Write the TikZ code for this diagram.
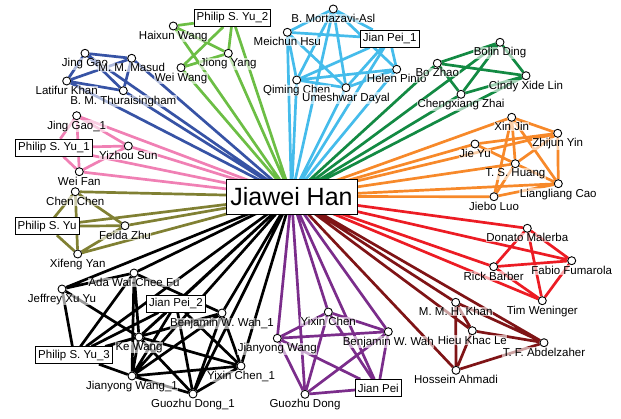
\documentclass[tikz,border=0pt]{standalone}
\usepackage{fontspec}
\setmainfont{Liberation Sans}
\usetikzlibrary{backgrounds}
\definecolor{cgreen}{RGB}{108,190,69}
\definecolor{cblue}{RGB}{55,83,165}
\definecolor{cpink}{RGB}{240,128,180}
\definecolor{colive}{RGB}{128,128,51}
\definecolor{csky}{RGB}{69,188,235}
\definecolor{cdgreen}{RGB}{19,138,67}
\definecolor{corange}{RGB}{247,137,42}
\definecolor{cred}{RGB}{236,28,36}
\definecolor{cmaroon}{RGB}{127,20,22}
\definecolor{cpurple}{RGB}{123,45,139}
\begin{document}
\begin{tikzpicture}[x=1pt,y=-1pt]
\tikzstyle{author} = [circle, draw=black, fill=white, line width=0.9pt, minimum size=8pt, inner sep=0pt, label distance=0.3pt]
\tikzstyle{every label} = [font=\fontsize{11.5}{13}\selectfont, fill=white, fill opacity=0.6, text opacity=1, inner sep=0.5pt]
\tikzstyle{alias} = [rectangle, draw=black, fill=white, line width=0.8pt, font=\fontsize{11.5}{13}\selectfont, minimum height=17pt, inner xsep=2.5pt, inner ysep=0pt]
\tikzstyle{hub} = [rectangle, draw=black, fill=white, line width=0.9pt, font=\fontsize{25}{28}\selectfont, minimum width=131pt, minimum height=35pt, inner sep=0pt]
\tikzstyle{coauthor} = [line width=2.7pt]
\useasboundingbox (0,0) rectangle (621,418);
\node[hub] (han) at (291.5,196.5) {Jiawei Han};
\node[alias] (pyu2) at (232.5,18) {Philip S. Yu\_2};
\node[author, label={below:Haixun Wang}] (hxwang) at (173.3,26) {};
\node[author, label={below:Jiong Yang}] (jyang) at (228.3,53.3) {};
\node[author, label={below:Wei Wang}] (wwang) at (181,67.7) {};
\node[author, label={below:Jing Gao}] (jgao) at (85,53.3) {};
\node[author, label={below:M. M. Masud}] (masud) at (131.7,58.3) {};
\node[author, label={below:Latifur Khan}] (lkhan) at (66.7,81) {};
\node[author, label={below:B. M. Thuraisingham}] (thura) at (123.3,90.7) {};
\node[author, label={below:Jing Gao\_1}] (jgao1) at (76.7,115.7) {};
\node[alias] (pyu1) at (54,147.7) {Philip S. Yu\_1};
\node[author, label={below:Yizhou Sun}] (ysun) at (128.3,146) {};
\node[author, label={below:Wei Fan}] (wfan) at (79.3,171.7) {};
\node[author, label={below:Chen Chen}] (cchen) at (75.3,191.7) {};
\node[alias] (pyu) at (47,226.3) {Philip S. Yu};
\node[author, label={below:Feida Zhu}] (fzhu) at (125,225.7) {};
\node[author, label={below:Xifeng Yan}] (xyan) at (77.7,254) {};
\node[author, label={below:B. Mortazavi-Asl}] (mort) at (333.3,9) {};
\node[author, label={below:Meichun Hsu}] (mhsu) at (287.3,32.3) {};
\node[alias] (jpei1) at (389.7,38.7) {Jian Pei\_1};
\node[author, label={below:Helen Pinto}] (hpinto) at (396.7,69.3) {};
\node[author, label={below:Qiming Chen}] (qchen) at (296.7,80) {};
\node[author, label={below:Umeshwar Dayal}] (udayal) at (346,87.7) {};
\node[author, label={below:Bo Zhao}] (bzhao) at (437.3,63.3) {};
\node[author, label={below:Bolin Ding}] (bding) at (500,42.3) {};
\node[author, label={below:Cindy Xide Lin}] (cxlin) at (526,75.7) {};
\node[author, label={below:Chengxiang Zhai}] (czhai) at (461,94.3) {};
\node[author, label={below:Xin Jin}] (xjin) at (511.7,117.3) {};
\node[author, label={below:Zhijun Yin}] (zyin) at (557.7,133.3) {};
\node[author, label={below:Jie Yu}] (jyu) at (475,144) {};
\node[author, label={below:T. S. Huang}] (tshuang) at (515.3,163.7) {};
\node[author, label={below:Liangliang Cao}] (lcao) at (558.3,183.7) {};
\node[author, label={below:Jiebo Luo}] (jluo) at (494,196.7) {};
\node[author, label={below:Donato Malerba}] (dmal) at (527.3,228.3) {};
\node[author, label={below:Fabio Fumarola}] (ffum) at (571.7,260.7) {};
\node[author, label={below:Rick Barber}] (rbar) at (493.7,266.7) {};
\node[author, label={below:Tim Weninger}] (twen) at (542.3,300.7) {};
\node[author, label={below:M. M. H. Khan}] (mkhan) at (455.7,302.3) {};
\node[author, label={below:Hieu Khac Le}] (hle) at (472.3,330.7) {};
\node[author, label={below:T. F. Abdelzaher}] (tfa) at (544,342.7) {};
\node[author, label={below:Hossein Ahmadi}] (hahm) at (456,370.3) {};
\node[author, label={below:Yixin Chen}] (ychen) at (328.3,312) {};
\node[author, label={below:Jianyong Wang}] (jwang) at (277.3,338.3) {};
\node[author, label={below:Benjamin W. Wah}] (bwah) at (388.3,331.7) {};
\node[author, label={below:Guozhu Dong}] (gdong) at (305,394.3) {};
\node[alias] (jpei) at (378.3,388) {Jian Pei};
\node[author, label={below:Ada Wai-Chee Fu}] (ada) at (134,273) {};
\node[author, label={below:Jeffrey Xu Yu}] (jxyu) at (62,289) {};
\node[alias] (jpei2) at (176,303.7) {Jian Pei\_2};
\node[author, label={below:Benjamin W. Wah\_1}] (bwah1) at (222,313) {};
\node[author, label={below:Ke Wang}] (kwang) at (139,337) {};
\node[alias] (pyu3) at (74,355.3) {Philip S. Yu\_3};
\node[author, label={below:Jianyong Wang\_1}] (jwang1) at (132,376) {};
\node[author, label={below:Yixin Chen\_1}] (ychen1) at (241,366) {};
\node[author, label={below:Guozhu Dong\_1}] (gdong1) at (193,394) {};
\begin{pgfonlayer}{background}
\draw[coauthor, cgreen] (han.center) -- (pyu2) (han.center) -- (hxwang) (han.center) -- (jyang) (han.center) -- (wwang)
  (pyu2) -- (hxwang) (pyu2) -- (jyang) (pyu2) -- (wwang) (hxwang) -- (jyang) (wwang) -- (jyang);
\draw[coauthor, cblue] (han.center) -- (jgao) (han.center) -- (masud) (han.center) -- (lkhan) (han.center) -- (thura)
  (jgao) -- (masud) (jgao) -- (lkhan) (jgao) -- (thura) (masud) -- (lkhan) (masud) -- (thura) (lkhan) -- (thura);
\draw[coauthor, cpink] (han.center) -- (jgao1) (han.center) -- (pyu1) (han.center) -- (ysun) (han.center) -- (wfan)
  (jgao1) -- (pyu1) (jgao1) -- (ysun) (jgao1) -- (wfan) (pyu1) -- (ysun) (pyu1) -- (wfan) (ysun) -- (wfan);
\draw[coauthor, colive] (han.center) -- (cchen) (han.center) -- (pyu) (han.center) -- (fzhu) (han.center) -- (xyan)
  (cchen) -- (pyu) (cchen) -- (fzhu) (cchen) -- (xyan) (pyu) -- (fzhu) (pyu) -- (xyan) (fzhu) -- (xyan);
\draw[coauthor, csky] (han.center) -- (mort) (han.center) -- (mhsu) (han.center) -- (jpei1) (han.center) -- (hpinto) (han.center) -- (qchen) (han.center) -- (udayal)
  (mort) -- (mhsu) (mort) -- (jpei1) (mort) -- (qchen) (mort) -- (udayal) (mort) -- (hpinto)
  (mhsu) -- (jpei1) (mhsu) -- (qchen) (mhsu) -- (udayal) (jpei1) -- (hpinto) (jpei1) -- (qchen) (jpei1) -- (udayal)
  (qchen) -- (hpinto) (qchen) -- (udayal) (udayal) -- (hpinto);
\draw[coauthor, cdgreen] (han.center) -- (bzhao) (han.center) -- (bding) (han.center) -- (cxlin) (han.center) -- (czhai)
  (bzhao) -- (bding) (bzhao) -- (cxlin) (bzhao) -- (czhai) (bding) -- (cxlin) (bding) -- (czhai) (cxlin) -- (czhai);
\draw[coauthor, corange] (han.center) -- (xjin) (han.center) -- (zyin) (han.center) -- (jyu) (han.center) -- (tshuang) (han.center) -- (lcao) (han.center) -- (jluo)
  (xjin) -- (zyin) (xjin) -- (tshuang) (xjin) -- (lcao) (xjin) -- (jluo) (jyu) -- (zyin) (jyu) -- (tshuang)
  (zyin) -- (tshuang) (zyin) -- (lcao) (tshuang) -- (lcao) (jluo) -- (lcao) (jluo) -- (tshuang);
\draw[coauthor, cred] (han.center) -- (dmal) (han.center) -- (ffum) (han.center) -- (rbar) (han.center) -- (twen)
  (dmal) -- (ffum) (dmal) -- (rbar) (dmal) -- (twen) (ffum) -- (rbar) (ffum) -- (twen) (rbar) -- (twen);
\draw[coauthor, cmaroon] (han.center) -- (mkhan) (han.center) -- (hle) (han.center) -- (tfa) (han.center) -- (hahm)
  (mkhan) -- (hle) (mkhan) -- (tfa) (mkhan) -- (hahm) (hle) -- (tfa) (hle) -- (hahm) (tfa) -- (hahm);
\draw[coauthor, cpurple] (han.center) -- (ychen) (han.center) -- (jwang) (han.center) -- (bwah) (han.center) -- (gdong) (han.center) -- (jpei)
  (ychen) -- (jwang) (ychen) -- (bwah) (ychen) -- (gdong) (ychen) -- (jpei) (jwang) -- (bwah)
  (jwang) -- (gdong) (jwang) -- (jpei) (bwah) -- (gdong) (bwah) -- (jpei) (gdong) -- (jpei);
\draw[coauthor, black] (han.center) -- (ada) (han.center) -- (jxyu) (han.center) -- (jpei2) (han.center) -- (bwah1) (han.center) -- (kwang)
  (han.center) -- (pyu3) (han.center) -- (jwang1) (han.center) -- (ychen1) (han.center) -- (gdong1)
  (jxyu) -- (ada) (jxyu) -- (pyu3) (jxyu) -- (kwang) (ada) -- (kwang) (ada) -- (pyu3) (ada) -- (jwang1) (ada) -- (bwah1)
  (jpei2) -- (pyu3) (jpei2) -- (jwang1) (jpei2) -- (gdong1) (jpei2) -- (ychen1) (jpei2) -- (kwang)
  (bwah1) -- (pyu3) (bwah1) -- (jwang1) (bwah1) -- (gdong1) (bwah1) -- (ychen1)
  (kwang) -- (pyu3) (kwang) -- (jwang1) (kwang) -- (gdong1) (kwang) -- (ychen1)
  (pyu3) -- (jwang1) (jwang1) -- (ychen1) (jwang1) -- (gdong1) (gdong1) -- (ychen1);
\end{pgfonlayer}
\end{tikzpicture}
\end{document}
